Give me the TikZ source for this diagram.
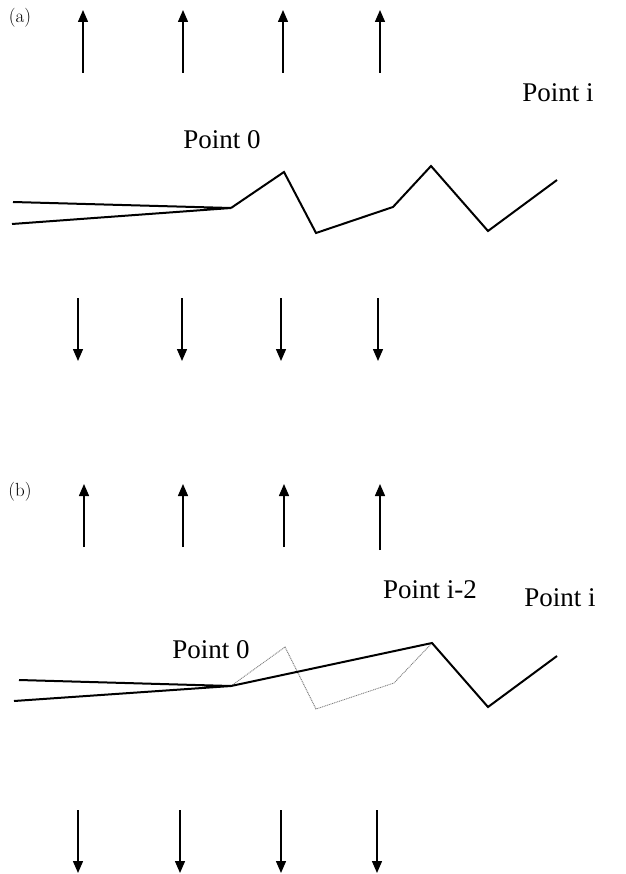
\documentclass[tikz,border=0pt]{standalone}
\usepackage{fontspec}
\setmainfont{Liberation Serif}
\newfontfamily\tagfont{Latin Modern Roman}
\usetikzlibrary{arrows.meta}
\begin{document}
\begin{tikzpicture}[x=1pt,y=-1pt,
  lbl/.style={font=\fontsize{27}{29}\selectfont, inner sep=0pt},
  tag/.style={font=\tagfont\fontsize{19}{21}\selectfont, inner sep=0pt},
  force/.style={line width=1.4pt, -{Triangle[length=12pt,width=10pt]}},
  chain/.style={line width=2pt, line join=miter},
  ghost/.style={gray, line width=0.9pt, dash pattern=on 1pt off 0.8pt}]
\useasboundingbox (0,0) rectangle (625,874);

% ---------- panel (a) ----------
\node[tag] (ta) at (20,18) {(a)};
\foreach \i/\x in {1/83,2/183,3/283,4/380} {
  \coordinate (au\i) at (\x,73);
  \coordinate (av\i) at (\x,10);
  \draw[force] (au\i) -- (av\i);
}
\foreach \i/\x in {1/78,2/182,3/281,4/378} {
  \coordinate (ad\i) at (\x,298);
  \coordinate (ae\i) at (\x,361);
  \draw[force] (ad\i) -- (ae\i);
}
\node[lbl] (api) at (558,93) {Point i};
\node[lbl] (ap0) at (222,140) {Point 0};

\coordinate (aL1) at (13,202);
\coordinate (aL2) at (12,224);
\coordinate (a0) at (231,208);
\coordinate (a1) at (284,172);
\coordinate (a2) at (316,233);
\coordinate (a3) at (393,207);
\coordinate (a4) at (431,166);
\coordinate (a5) at (488,231);
\coordinate (a6) at (557,180);
\draw[chain] (aL1) -- (a0) -- (aL2);
\draw[chain] (a0) -- (a1) -- (a2) -- (a3) -- (a4) -- (a5) -- (a6);

% ---------- panel (b) ----------
\node[tag] (tb) at (20,492) {(b)};
\foreach \i/\x/\y in {1/84/547,2/183/547,3/284/547,4/380/550} {
  \coordinate (bu\i) at (\x,\y);
  \coordinate (bv\i) at (\x,484);
  \draw[force] (bu\i) -- (bv\i);
}
\foreach \i/\x in {1/78,2/180,3/281,4/377} {
  \coordinate (bd\i) at (\x,810);
  \coordinate (be\i) at (\x,873);
  \draw[force] (bd\i) -- (be\i);
}
\node[lbl] (bpi2) at (430,590) {Point i-2};
\node[lbl] (bpi) at (560,598) {Point i};
\node[lbl] (bp0) at (211,650) {Point 0};

\coordinate (bL1) at (19,680);
\coordinate (bL2) at (14,701);
\coordinate (b0) at (231,686);
\coordinate (b1) at (285,647);
\coordinate (b2) at (316,709);
\coordinate (b3) at (394,683);
\coordinate (b4) at (432,643);
\coordinate (b5) at (488,707);
\coordinate (b6) at (557,656);
\draw[ghost] (b0) -- (b1) -- (b2) -- (b3) -- (b4);
\draw[chain] (bL1) -- (b0) -- (bL2);
\draw[chain] (b0) -- (b4) -- (b5) -- (b6);
\end{tikzpicture}
\end{document}
